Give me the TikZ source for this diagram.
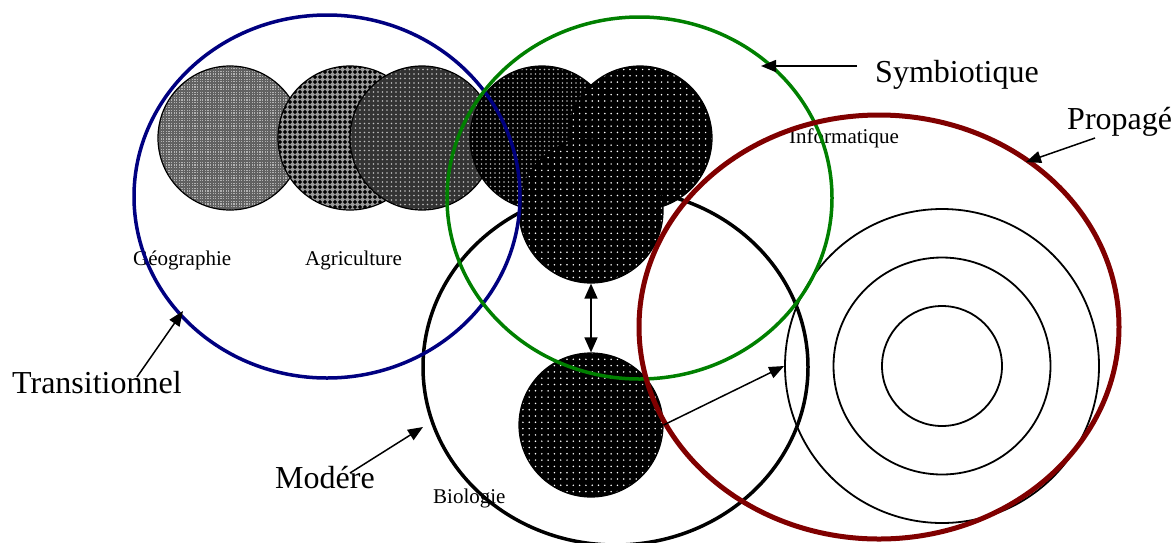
\documentclass[tikz,border=0pt]{standalone}
\usepackage{fontspec}
\setmainfont{Liberation Serif}
\usetikzlibrary{shapes.geometric,patterns,arrows.meta}

\definecolor{navyc}{RGB}{0,0,128}
\definecolor{greenc}{RGB}{0,128,0}
\definecolor{redc}{RGB}{128,0,0}

\pgfdeclarepatternformonly{pfine}{\pgfqpoint{-1pt}{-1pt}}{\pgfqpoint{1pt}{1pt}}{\pgfqpoint{2.6pt}{2.6pt}}{\pgfpathrectangle{\pgfqpoint{-0.65pt}{-0.65pt}}{\pgfqpoint{1.3pt}{1.3pt}}\pgfusepath{fill}}
\pgfdeclarepatternformonly{pdiam}{\pgfqpoint{-3pt}{-3pt}}{\pgfqpoint{3pt}{3pt}}{\pgfqpoint{5pt}{5pt}}{\pgfpathmoveto{\pgfqpoint{0pt}{2.1pt}}\pgfpathlineto{\pgfqpoint{2.1pt}{0pt}}\pgfpathlineto{\pgfqpoint{0pt}{-2.1pt}}\pgfpathlineto{\pgfqpoint{-2.1pt}{0pt}}\pgfpathclose\pgfusepath{fill}}
\pgfdeclarepatternformonly{pdotsS}{\pgfqpoint{-1pt}{-1pt}}{\pgfqpoint{1pt}{1pt}}{\pgfqpoint{4.5pt}{4.5pt}}{\pgfpathcircle{\pgfpointorigin}{0.8pt}\pgfusepath{fill}}
\pgfdeclarepatternformonly{pdotsL}{\pgfqpoint{-1pt}{-1pt}}{\pgfqpoint{1pt}{1pt}}{\pgfqpoint{6.3pt}{6.3pt}}{\pgfpathcircle{\pgfpointorigin}{0.85pt}\pgfusepath{fill}}

\begin{document}
\begin{tikzpicture}[x=1pt,y=-1pt,
  bigtxt/.style={inner sep=0pt, anchor=base west, font=\fontsize{32}{36}\selectfont},
  smalltxt/.style={inner sep=0pt, anchor=base west, font=\fontsize{21}{24}\selectfont},
  ring/.style={ellipse, inner sep=0pt, line width=3.5pt},
  disc/.style={circle, inner sep=0pt, minimum size=144pt, draw=black, line width=1.2pt},
  thinring/.style={circle, inner sep=0pt, draw=black, line width=1.8pt},
  arr/.style={line width=1.5pt, -{Triangle[length=15pt,width=12pt]}},
  darr/.style={line width=1.5pt, {Triangle[length=15pt,width=13pt]}-{Triangle[length=15pt,width=13pt]}},
  patgeo/.style={preaction={fill=black!62}, pattern=pfine, pattern color=black!30},
  patagr/.style={preaction={fill=black!40}, pattern=pdiam, pattern color=black},
  patthird/.style={preaction={fill=black!80}, pattern=pdotsS, pattern color=white!75!black},
  patfourth/.style={preaction={fill=black}, pattern=pdotsS, pattern color=white!70!black},
  patdark/.style={preaction={fill=black}, pattern=pdotsL, pattern color=white},
]
\useasboundingbox (0,0) rectangle (1175,542);
\clip (0,0) rectangle (1175,542);

% small labels (behind the rings)
\node[smalltxt] (lgeo) at (133,265) {Géographie};
\node[smalltxt] (lagr) at (305,265) {Agriculture};
\node[smalltxt] (linf) at (789,143) {Informatique};
\node[smalltxt] (lbio) at (433,503) {Biologie};

% Modere ring (behind the discs)
\node[ring, draw=black, minimum width=385pt, minimum height=356pt] (moder) at (615.5,367) {};

% patterned discs
\node[disc, patgeo] (geo) at (230,138) {};
\node[disc, patagr] (agr) at (350,138) {};
\node[disc, patthird] (thd) at (422,138) {};
\node[disc, patfourth] (fth) at (542,138) {};
\node[disc, patdark] (inf) at (640,138) {};
\node[disc, patdark] (mid) at (591,211) {};
\node[disc, patdark] (bio) at (591,425) {};

% concentric rings
\node[thinring, minimum size=314pt] (c3) at (942,366) {};
\node[thinring, minimum size=217pt] (c2) at (942,366) {};
\node[thinring, minimum size=120pt] (c1) at (942,366) {};

% coloured rings
\node[ring, draw=navyc, minimum width=386pt, minimum height=363pt] (trans) at (327,196.5) {};
\node[ring, draw=greenc, minimum width=385pt, minimum height=362pt] (symb) at (639.5,198) {};
\node[ring, draw=redc, line width=5pt, minimum width=480pt, minimum height=424pt] (prop) at (879,327) {};

% big labels
\node[bigtxt] (tsymb) at (875,82) {Symbiotique};
\node[bigtxt] (tprop) at (1067,129) {Propagé};
\node[bigtxt] (ttrans) at (12,393) {Transitionnel};
\node[bigtxt] (tmod) at (275,488) {Modére};

% arrow ends
\coordinate (symbTail) at (857,66);
\coordinate (symbTip) at (761,66);
\coordinate (propTail) at (1095,138);
\coordinate (propTip) at (1026,162);
\coordinate (transTail) at (137,377);
\coordinate (transTip) at (183,311);
\coordinate (modTail) at (350,473);
\coordinate (modTip) at (423,427);

\draw[arr] (symbTail) -- (symbTip);
\draw[arr] (propTail) -- (propTip);
\draw[arr] (transTail) -- (transTip);
\draw[arr] (modTail) -- (modTip);
\draw[darr] (mid.south) -- (bio.north);
\draw[arr] (bio.east) -- (c3.west);
\end{tikzpicture}
\end{document}
